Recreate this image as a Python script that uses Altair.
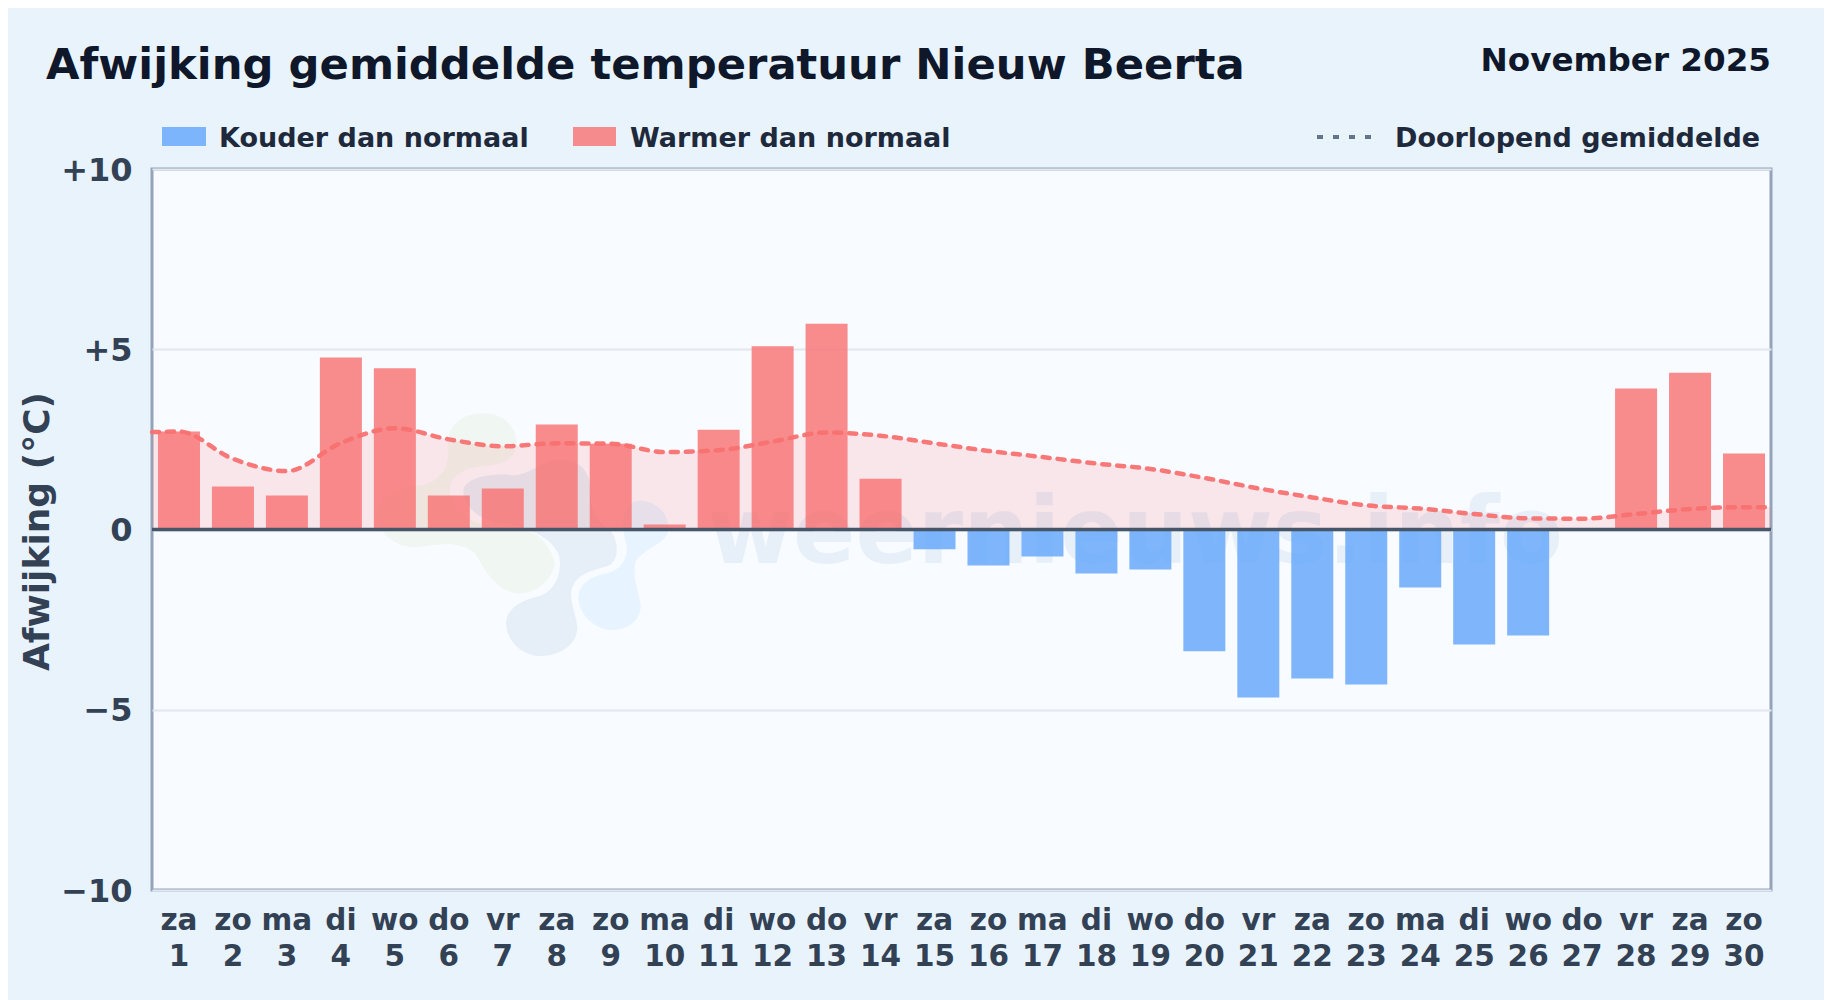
import altair as alt
import pandas as pd

days = list(range(1, 31))
weekdays = ["za","zo","ma","di","wo","do","vr","za","zo","ma","di","wo","do","vr","za","zo","ma","di","wo","do","vr","za","zo","ma","di","wo","do","vr","za","zo"]
afwijking = [2.72,1.19,0.94,4.77,4.47,0.94,1.14,2.91,2.38,0.14,2.77,5.08,5.71,1.41,-0.55,-1.00,-0.75,-1.22,-1.11,-3.38,-4.66,-4.13,-4.30,-1.61,-3.19,-2.94,0.0,3.91,4.35,2.11]
lijn_x = [0.5] + days + [30.5]
lijn_y = [2.70,2.72,1.96,1.62,2.40,2.81,2.50,2.31,2.39,2.38,2.15,2.20,2.44,2.69,2.60,2.39,2.18,2.01,1.83,1.68,1.43,1.14,0.89,0.67,0.58,0.43,0.31,0.30,0.43,0.57,0.62,0.62]
y_ticks = [-10,-5,0,5,10]

C_BG = "#e8f3fc"
C_PLOT = "#f8fbff"
C_WARM = "#f87171"
C_COLD = "#60a5fa"
C_LINE = "#f87171"
C_BORDER = "#94a3b8"
C_TICK = "#334155"
C_TITLE = "#0f172a"
C_LEG = "#1e293b"
FONT = "DejaVu Sans"
PL, PT = 152, 169  # plot origin on the page

GREEN = "M370 70C430 70 470 110 470 160C470 210 420 225 370 228C320 232 280 250 270 290C265 340 300 385 360 400C400 405 440 405 480 410C530 425 570 460 585 520C570 590 510 612 470 610C400 600 370 530 345 490C300 455 250 460 170 472C100 470 60 430 50 380C50 310 130 290 190 285C250 270 270 220 265 170C260 110 300 70 370 70Z"
GREY = "M310 300C320 260 400 250 450 255C500 262 530 220 590 210C650 205 690 240 690 290C690 340 700 390 750 420C775 450 780 500 750 525C710 540 660 545 640 585C620 620 650 670 652 715C650 770 590 800 540 798C480 795 440 750 438 700C440 650 490 630 540 618C590 600 610 540 595 490C570 440 500 410 430 400C360 395 310 350 310 300Z"
LIGHT = "M820 335C880 320 930 370 925 420C920 460 860 470 830 510C810 550 840 610 842 650C840 700 790 722 750 720C700 715 655 670 655 620C660 580 690 560 740 550C780 540 805 510 800 465C785 420 780 360 820 335Z"

bars = pd.DataFrame({"dag": days, "waarde": afwijking})
bars["soort"] = ["warm" if v >= 0 else "koud" for v in afwijking]
line = pd.DataFrame({"dag": lijn_x, "gem": lijn_y})

label_expr = "[" + str(weekdays) + "[datum.value-1], '' + datum.value]"
ylab_expr = "{'-10':'\u221210','-5':'\u22125','0':'0','5':'+5','10':'+10'}[''+datum.value]"

x = alt.X("dag:Q", scale=alt.Scale(domain=[0.5, 30.5], nice=False, zero=False, padding=0),
          axis=alt.Axis(values=days, labelExpr=label_expr, title=None, grid=False, domain=False, ticks=False,
                        labelFont=FONT, labelFontSize=29.5, labelFontWeight="bold", labelColor=C_TICK,
                        labelPadding=16, labelLineHeight=36, labelOverlap=False, labelFlush=False,
                        labelOffset=-0.5, labelBaseline="top"))
y_scale = alt.Scale(domain=[-10, 10], nice=False)

area = alt.Chart(line).mark_area(interpolate="monotone", color=C_LINE, opacity=0.15).encode(
    x=x,
    y=alt.Y("gem:Q", scale=y_scale, axis=alt.Axis(
        values=y_ticks, labelExpr=ylab_expr, title="Afwijking (\u00b0C)", grid=True, gridColor="#e2e8f0", gridWidth=2,
        domain=False, ticks=False, labelFont=FONT, labelFontSize=32, labelFontWeight="bold", labelColor=C_TICK,
        labelPadding=20, labelOffset=1, titleFont=FONT, titleFontSize=36, titleFontWeight="bold", titleColor=C_TICK,
        titleX=-96, titleY=362, labelOverlap=False, labelFlush=False)),
    y2=alt.datum(0),
)

bar = alt.Chart(bars).mark_bar(size=42, orient="vertical", opacity=0.8).encode(
    x=alt.X("dag:Q"),
    y=alt.Y("waarde:Q", stack=None),
    color=alt.Color("soort:N", scale=alt.Scale(domain=["koud", "warm"], range=[C_COLD, C_WARM]), legend=None),
)

mean_line = alt.Chart(line).mark_line(interpolate="monotone", color=C_LINE, strokeWidth=4.5,
                                      strokeDash=[7, 8], strokeCap="round", opacity=0.95).encode(
    x=alt.X("dag:Q"), y=alt.Y("gem:Q"))

zero = alt.Chart(pd.DataFrame({"nul": [0]})).mark_rule(color="#475569", strokeWidth=3.5).encode(y=alt.Y("nul:Q"))


def blob(path, colour, opacity):
    return alt.Chart(pd.DataFrame({"vorm": ["logo"]})).mark_point(
        shape=path, filled=True, color=colour, opacity=opacity, size=4 / 9, strokeWidth=0, clip=False
    ).encode(x=alt.value(360 - PL), y=alt.value(390 - PT))


def label(text, px, py, size, colour, align="left"):
    return alt.Chart(pd.DataFrame({"t": [text]})).mark_text(
        font=FONT, fontWeight="bold", fontSize=size, color=colour, align=align, baseline="alphabetic"
    ).encode(x=alt.value(px - PL), y=alt.value(py - PT), text="t:N")


def swatch(x0, x1, colour):
    return alt.Chart(pd.DataFrame({"s": ["s"]})).mark_rect(color=colour, opacity=0.8).encode(
        x=alt.value(x0 - PL), x2=alt.value(x1 - PL), y=alt.value(127 - PT), y2=alt.value(146 - PT))


mark_text_wm = alt.Chart(pd.DataFrame({"t": ["weernieuws.info"]})).mark_text(
    font=FONT, fontWeight="bold", fontSize=92, color="#2f73b8", opacity=0.08, align="left", baseline="alphabetic"
).encode(x=alt.value(708 - PL), y=alt.value(563 - PT), text="t:N")

dots = alt.Chart(pd.DataFrame({"s": ["s"]})).mark_rule(color="#64748b", strokeWidth=4, strokeDash=[6, 10]).encode(
    x=alt.value(1317 - PL), x2=alt.value(1373 - PL), y=alt.value(137 - PT))

chart = alt.layer(
    area,
    blob(GREEN, "#a8d86a", 0.09), blob(GREY, "#1e5a9e", 0.08), blob(LIGHT, "#5cb5f5", 0.10), mark_text_wm,
    bar, mean_line, zero,
    label("Afwijking gemiddelde temperatuur Nieuw Beerta", 46, 79, 43.3, C_TITLE),
    label("November 2025", 1771, 71, 32.6, C_TITLE, align="right"),
    swatch(162, 206, C_COLD), label("Kouder dan normaal", 219, 147, 27, C_LEG),
    swatch(573, 616, C_WARM), label("Warmer dan normaal", 630, 147, 27, C_LEG),
    dots, label("Doorlopend gemiddelde", 1395, 147, 27, C_LEG),
).resolve_scale(y="shared", x="shared").properties(
    width=1619, height=721,
    background=C_BG,
    padding={"left": PL - 8, "top": PT - 8, "right": 53, "bottom": 110},
    autosize=alt.AutoSizeParams(type="none", contains="content"),
).configure_view(fill=C_PLOT, stroke=C_BORDER, strokeWidth=3)

chart.save("out.html", embed_options={"renderer": "svg", "actions": False})
